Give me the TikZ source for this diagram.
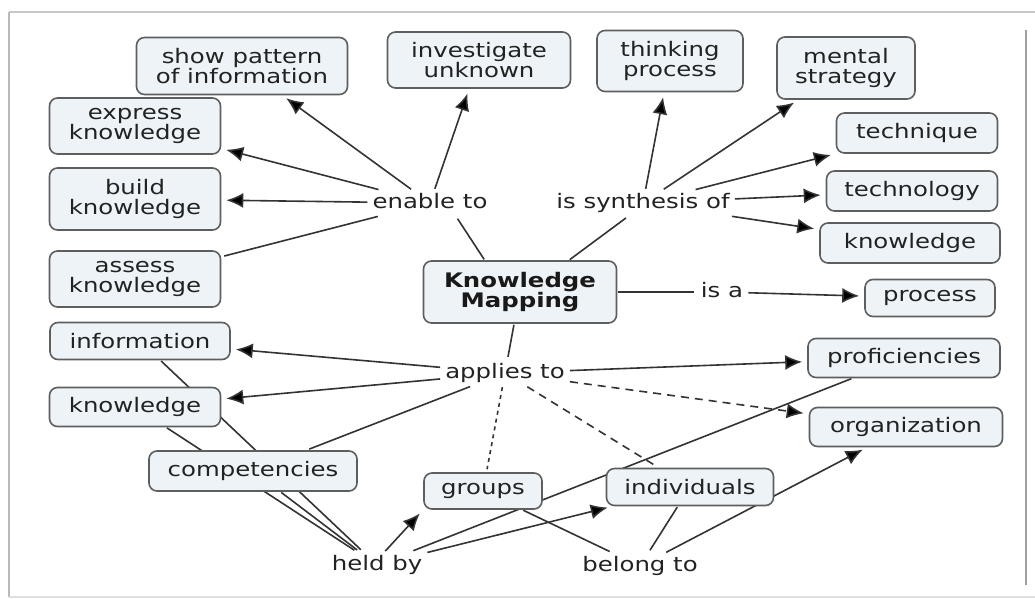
\documentclass[tikz,border=0pt]{standalone}
\usepackage{fontspec}
\setmainfont{DejaVu Sans}[FakeStretch=1.22]
\usetikzlibrary{arrows.meta}
\pgfdeclarelayer{bg}
\pgfsetlayers{bg,main}
\definecolor{boxfill}{HTML}{EDF3F6}
\definecolor{boxline}{HTML}{5E5E5E}
\definecolor{ink}{HTML}{222222}
\definecolor{wire}{HTML}{333333}
\tikzset{
  concept/.style={draw=boxline, fill=boxfill, rounded corners=8pt, line width=1.6pt,
    inner sep=0pt, align=center, text=ink},
  linkword/.style={inner sep=4pt, text=ink, text height=14pt, text depth=4pt},
  conn/.style={draw=wire, line width=1.6pt, shorten >=3pt, shorten <=1pt},
  arr/.style={conn, -{Latex[length=17pt,width=15pt,fill=black]}, shorten >=5pt},
  frame/.style={line width=1.2pt}
}
\begin{document}
\begin{tikzpicture}[x=1pt, y=-1pt, font=\fontsize{20}{20}\selectfont]
\useasboundingbox (0,0) rectangle (1035,599);

% outer frame
\draw[frame, draw=gray!45] (9,12) -- (1035,12);
\draw[frame, draw=gray!55] (9,12) -- (9,597);
\draw[frame, draw=gray!25] (9,597) -- (1035,597);
\draw[frame, draw=gray!75] (1026,30) -- (1026,585);

% concepts
\node[concept, minimum width=211, minimum height=57] (sp) at (242,66) {show pattern\\of information};
\node[concept, minimum width=183, minimum height=56] (iu) at (479,60) {investigate\\unknown};
\node[concept, minimum width=146, minimum height=61] (tp) at (670,61) {thinking\\process};
\node[concept, minimum width=138, minimum height=62] (ms) at (846,68) {mental\\strategy};
\node[concept, minimum width=161, minimum height=40] (tq) at (917,133) {technique};
\node[concept, minimum width=171, minimum height=40] (ty) at (912,191) {technology};
\node[concept, minimum width=180, minimum height=40] (kr) at (910,243) {knowledge};
\node[concept, minimum width=130, minimum height=37] (pr) at (930,298) {process};
\node[concept, minimum width=171, minimum height=56] (ek) at (135,126) {express\\knowledge};
\node[concept, minimum width=171, minimum height=62] (bk) at (135,199) {build\\knowledge};
\node[concept, minimum width=171, minimum height=56] (ak) at (135,279) {assess\\knowledge};
\node[concept, minimum width=193, minimum height=62, font=\fontsize{20}{20}\selectfont\bfseries, text=black!90] (km) at (520,292) {Knowledge\\Mapping};
\node[concept, minimum width=180, minimum height=37] (inf) at (140,341) {information};
\node[concept, minimum width=171, minimum height=39] (kl) at (135,407) {knowledge};
\node[concept, minimum width=208, minimum height=40] (cp) at (253,471) {competencies};
\node[concept, minimum width=118, minimum height=36] (gr) at (483,491) {groups};
\node[concept, minimum width=167, minimum height=37] (iv) at (690,487) {individuals};
\node[concept, minimum width=192, minimum height=39] (pf) at (904,358) {proficiencies};
\node[concept, minimum width=193, minimum height=39] (og) at (906,427) {organization};

% linking phrases
\node[linkword] (en) at (430,203) {enable to};
\node[linkword] (sy) at (643,203) {is synthesis of};
\node[linkword] (isa) at (722,292) {is a};
\node[linkword] (ap) at (505,373) {applies to};
\node[linkword] (hb) at (377,565) {held by};
\node[linkword] (bl) at (640,566) {belong to};

\begin{pgfonlayer}{bg}
% enable to
\draw[conn] (km.138) -- (en.333);
\draw[arr] (en) -- (sp);
\draw[arr] (en) -- (iu);
\draw[arr] (en) -- (ek);
\draw[arr] (en) -- (bk);
\draw[conn] (en) -- (ak);
% is synthesis of
\draw[conn] (km.33) -- (sy.222);
\draw[arr] (sy) -- (tp);
\draw[arr] (sy) -- (ms);
\draw[arr] (sy) -- (tq);
\draw[arr] (sy) -- (ty);
\draw[arr] (sy) -- (kr);
% is a
\draw[conn] (km) -- (isa);
\draw[arr] (isa) -- (pr);
% applies to
\draw[conn] (km) -- (ap);
\draw[arr] (ap) -- (inf);
\draw[arr] (ap) -- (kl);
\draw[conn] (ap) -- (cp);
\draw[arr] (ap) -- (pf);
\draw[arr, dash pattern=on 8pt off 6pt] (ap) -- (og);
\draw[conn, dash pattern=on 4pt off 4pt] (ap) -- (gr);
\draw[conn, dash pattern=on 8pt off 6pt] (ap) -- (iv);
% held by
\draw[conn] (inf) -- (hb);
\draw[conn] (kl) -- (hb);
\draw[conn] (cp) -- (hb);
\draw[conn] (pf) -- (hb);
\draw[arr] (hb.60) -- (gr.south west);
\draw[arr] (hb) -- (iv);
% belong to
\draw[conn] (gr) -- (bl);
\draw[conn] (iv) -- (bl);
\draw[arr] (bl) -- (og);
\end{pgfonlayer}
\end{tikzpicture}
\end{document}
